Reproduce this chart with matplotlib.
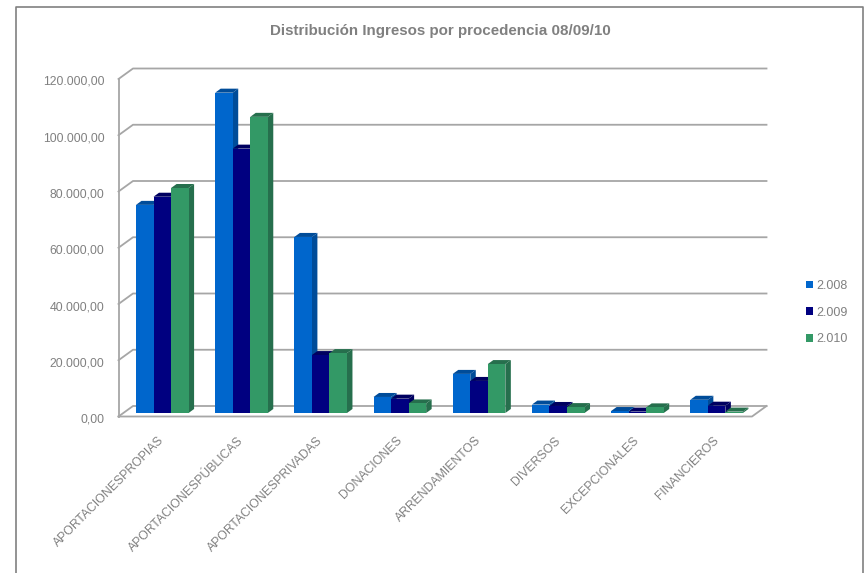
import matplotlib
matplotlib.use("Agg")
import matplotlib.pyplot as plt
from matplotlib.patches import Patch
from matplotlib.ticker import FuncFormatter
from matplotlib.transforms import ScaledTranslation

plt.rcParams["font.family"] = ["Liberation Sans", "DejaVu Sans"]

categories = ["APORTACIONESPROPIAS", "APORTACIONESPÚBLICAS", "APORTACIONESPRIVADAS",
              "DONACIONES", "ARRENDAMIENTOS", "DIVERSOS", "EXCEPCIONALES", "FINANCIEROS"]
series_names = ["2.008", "2.009", "2.010"]
values_2008 = [74000, 113900, 62600, 5700, 13900, 3000, 700, 4700]
values_2009 = [76900, 94000, 20600, 5100, 11400, 2500, 500, 2600]
values_2010 = [80000, 105300, 21300, 3400, 17400, 2100, 2000, 500]
y_ticks = [0, 20000, 40000, 60000, 80000, 100000, 120000]

FRONT_COLORS = ["#0066cc", "#000080", "#339966"]
SIDE_COLORS = ["#004c99", "#000060", "#266f4d"]
GRID_COLOR = "#a6a6a6"
TEXT_COLOR = "#808080"

W, H = 866, 573
AX_LEFT, AX_RIGHT, AX_TOP, AX_BOTTOM = 118.5, 752.0, 79.0, 416.5

fig = plt.figure(figsize=(W / 100, H / 100), dpi=100)
ax = fig.add_axes([AX_LEFT / W, 1 - AX_BOTTOM / H,
                   (AX_RIGHT - AX_LEFT) / W, (AX_BOTTOM - AX_TOP) / H])
ax.set_xlim(0, len(categories))
ax.set_ylim(0, y_ticks[-1])
for spine in ax.spines.values():
    spine.set_visible(False)

# pixel offsets converted to data units for the fake 3D depth
px_x = len(categories) / (AX_RIGHT - AX_LEFT)
px_y = y_ticks[-1] / (AX_BOTTOM - AX_TOP)
wall_dx, wall_dy = 14.5 * px_x, 10.5 * px_y
bar_dx, bar_dy = 4.2 * px_x, 3.5 * px_y
depth_dx, depth_dy = 5.5 * px_x, 4.0 * px_y

# back wall lines and the diagonals on the left wall
line_kw = dict(color=GRID_COLOR, lw=1.3, clip_on=False, zorder=1)
for t in y_ticks:
    ax.plot([0, wall_dx, len(categories) + wall_dx],
            [t, t + wall_dy, t + wall_dy], **line_kw)
ax.plot([0, 0], [0, y_ticks[-1]], **line_kw)
ax.plot([0, len(categories), len(categories) + wall_dx],
        [0, 0, wall_dy], **line_kw)

# bars, left to right so the nearer faces cover the sides
gap = 0.168
bar_w = (1 - 2 * gap) / 3
for i in range(len(categories)):
    for s, vals in enumerate([values_2008, values_2009, values_2010]):
        x0 = i + gap + s * bar_w + bar_dx
        x1 = x0 + bar_w
        y0 = bar_dy
        y1 = vals[i] + bar_dy
        ax.fill([x1, x1 + depth_dx, x1 + depth_dx, x1],
                [y0, y0 + depth_dy, y1 + depth_dy, y1],
                color=SIDE_COLORS[s], lw=0, clip_on=False, zorder=2)
        ax.fill([x0, x0 + depth_dx, x1 + depth_dx, x1],
                [y1, y1 + depth_dy, y1 + depth_dy, y1],
                color=SIDE_COLORS[s], lw=0, clip_on=False, zorder=2)
        ax.fill([x0, x1, x1, x0], [y0, y0, y1, y1],
                color=FRONT_COLORS[s], lw=0, clip_on=False, zorder=2)

ax.set_yticks(y_ticks)
ax.yaxis.set_major_formatter(FuncFormatter(
    lambda v, _: f"{v:,.2f}".replace(",", "#").replace(".", ",").replace("#", ".")))
ax.tick_params(axis="y", length=0, pad=10, labelsize=8.8, labelcolor=TEXT_COLOR)
# nudge the value labels down a little from the front edge ticks
nudge = ScaledTranslation(0, -1.5 / 100, fig.dpi_scale_trans)
for label in ax.get_yticklabels():
    label.set_transform(label.get_transform() + nudge)
ax.set_xticks([i + 0.5 for i in range(len(categories))])
ax.set_xticklabels(categories, rotation=45, ha="right", rotation_mode="anchor")
ax.tick_params(axis="x", length=0, pad=13, labelsize=8.8, labelcolor=TEXT_COLOR)

fig.text(440 / W, 1 - 31.5 / H, "Distribución Ingresos por procedencia 08/09/10",
         ha="center", va="center", fontsize=10.9, fontweight="bold", color=TEXT_COLOR)

handles = [Patch(facecolor=c, label=n) for c, n in zip(FRONT_COLORS, series_names)]
fig.legend(handles=handles, loc="center left", bbox_to_anchor=(806 / W, 1 - 312.5 / H),
           frameon=False, fontsize=9, labelcolor=TEXT_COLOR, handlelength=0.55,
           handleheight=0.55, handletextpad=0.3, labelspacing=1.18, borderpad=0, borderaxespad=0)

# outer chart frame, open along the bottom edge
frame = dict(color="#808080", lw=1.2, transform=fig.transFigure, clip_on=False)
fig.add_artist(plt.Line2D([16 / W, 16 / W, 863 / W, 863 / W],
                          [0, 1 - 7 / H, 1 - 7 / H, 0], **frame))

fig.savefig("out.png", dpi=100)
